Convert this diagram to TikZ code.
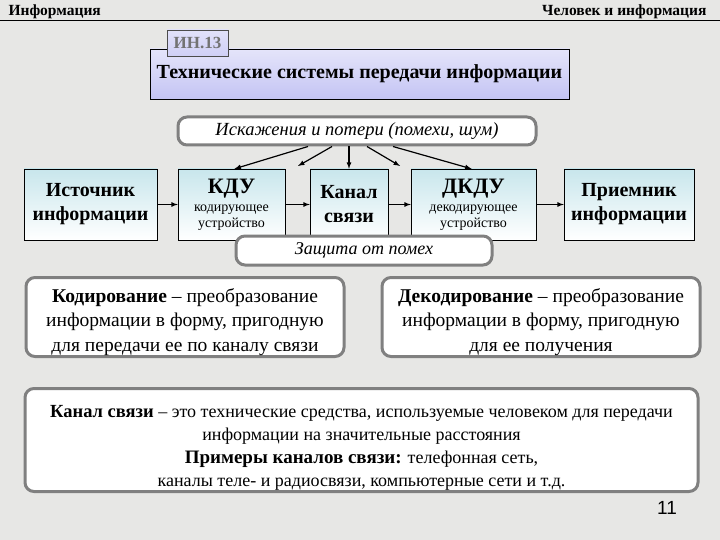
\documentclass[tikz,border=0pt]{standalone}
\usepackage{fontspec}
\setmainfont{Liberation Serif}[BoldFont={Liberation Serif Bold}, ItalicFont={Liberation Serif Italic}]
\newfontfamily\arialfont{Liberation Sans}
\definecolor{bgpaper}{RGB}{231,231,229}
\definecolor{boxtop}{RGB}{200,230,236}
\definecolor{lavender}{RGB}{196,196,244}
\definecolor{ovalgray}{RGB}{128,128,128}
\newcommand\devicefont{\fontsize{14}{16}\selectfont\mdseries}

\begin{document}
\begin{tikzpicture}[x=1pt, y=-1pt, >=latex,
    blok/.style={draw=black, top color=boxtop, bottom color=white, align=center,
      inner sep=0pt, minimum height=71pt, font=\fontsize{20}{24}\selectfont\bfseries},
    oval/.style={draw=ovalgray, line width=3pt, rounded corners=9pt, fill=white,
      align=center, inner sep=0pt},
    link/.style={->, line width=1.2pt}]
    \useasboundingbox[fill=bgpaper] (0,0) rectangle (720,540);

    % header
    \node[anchor=base west, font=\fontsize{15.5}{17}\selectfont\bfseries] at (5,16) (hleft) {Информация};
    \node[anchor=base east, font=\fontsize{15.5}{17}\selectfont\bfseries] at (710,16) (hright) {Человек и информация};
    \draw[line width=1.5pt] (0,20.5) -- (720,20.5);

    % title
    \node[draw=black, top color=lavender!45, middle color=white, bottom color=lavender,
      minimum width=419pt, minimum height=50pt, inner sep=0pt,
      font=\fontsize{20}{24}\selectfont\bfseries] at (359.5,74) (title) {Технические системы передачи информации};
    \node[draw=black!70, top color=lavender!50, bottom color=lavender!80, text=black!55,
      minimum width=61pt, minimum height=26pt, inner sep=0pt,
      font=\fontsize{17}{18}\selectfont\bfseries] at (197.5,43) (code) {ИН.13};

    % noise
    \node[oval, minimum width=358pt, minimum height=28pt,
      font=\fontsize{18.5}{20}\selectfont\itshape] at (357,131) (noise) {Искажения и потери (помехи, шум)};

    % chain
    \node[blok, minimum width=133pt] at (90.5,204.5) (src) {Источник\\информации};
    \node[blok, minimum width=107pt, font=\devicefont] at (231.5,204.5) (kdu)
      {{\fontsize{22}{24}\selectfont\bfseries КДУ}\\[2pt]кодирующее\\устройство};
    \node[blok, minimum width=78pt] at (349,204.5) (chan) {Канал\\связи};
    \node[blok, minimum width=125pt, font=\devicefont] at (473.5,204.5) (dkdu)
      {{\fontsize{22}{24}\selectfont\bfseries ДКДУ}\\[2pt]декодирующее\\устройство};
    \node[blok, minimum width=130pt] at (629,204.5) (rcv) {Приемник\\информации};

    \path [link] (src) edge (kdu);
    \path [link] (kdu) edge (chan);
    \path [link] (chan) edge (dkdu);
    \path [link] (dkdu) edge (rcv);

    \coordinate (gapA) at (298,166);
    \coordinate (gapB) at (400,166);
    \path [link] ([xshift=-49pt]noise.south) edge ([xshift=3pt]kdu.north);
    \path [link] ([xshift=-25pt]noise.south) edge (gapA);
    \path [link] ([xshift=-8pt]noise.south) edge ([xshift=0pt]chan.north);
    \path [link] ([xshift=10pt]noise.south) edge (gapB);
    \path [link] ([xshift=36pt]noise.south) edge ([xshift=-2pt]dkdu.north);

    % protection
    \node[oval, minimum width=256pt, minimum height=29pt,
      font=\fontsize{18}{20}\selectfont\itshape] at (364,250.5) (prot) {Защита от помех};

    % definitions
    \node[oval, minimum width=318pt, minimum height=79pt,
      font=\fontsize{19.5}{24.5}\selectfont] at (185,317) (coding)
      {\rule{0pt}{24pt}\textbf{Кодирование} -- преобразование\\информации в форму, пригодную\\для передачи ее по каналу связи};
    \node[oval, minimum width=318pt, minimum height=79pt,
      font=\fontsize{19.5}{24.5}\selectfont] at (541,317) (decoding)
      {\rule{0pt}{24pt}\textbf{Декодирование} -- преобразование\\информации в форму, пригодную\\для ее получения};

    \node[oval, minimum width=673pt, minimum height=103pt,
      font=\fontsize{18}{23}\selectfont] at (361.5,440) (chdef)
      {\rule{0pt}{28pt}{\fontsize{18.5}{23}\selectfont\bfseries Канал связи} -- это технические средства, используемые человеком для передачи\\
       информации на значительные расстояния\\
       {\fontsize{19}{23}\selectfont\bfseries Примеры каналов связи:} телефонная сеть,\\
       каналы теле- и радиосвязи, компьютерные сети и т.д.};

    \node[font=\arialfont\fontsize{19}{22}\selectfont] at (667,508) (page) {11};
\end{tikzpicture}
\end{document}
